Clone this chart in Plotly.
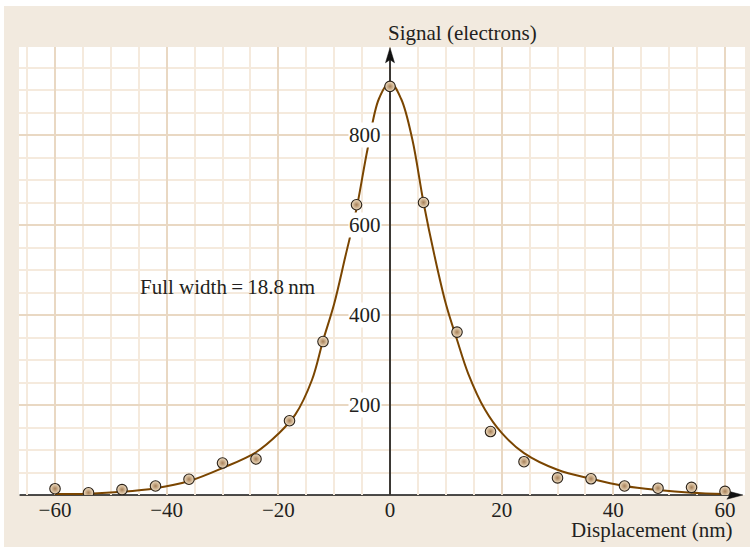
import plotly.graph_objects as go

# ---- data ----
x_pts = [-60, -54, -48, -42, -36, -30, -24, -18, -12, -6, 0, 6, 12, 18, 24, 30, 36, 42, 48, 54, 60]
y_pts = [14, 5, 12, 20, 35, 71, 80, 165, 341, 645, 908, 650, 362, 141, 74, 38, 36, 20, 15, 17, 8]

curve_x = [-60, -54, -48, -42, -36, -30, -24, -20, -17, -14, -12, -10, -8, -6, -4, -2, 0,
           2, 4, 6, 8, 10, 12, 14, 17, 20, 24, 30, 36, 42, 48, 54, 60]
curve_y = [2, 3, 7, 15, 31, 60, 95, 136, 178, 255, 343, 425, 530, 636, 770, 880, 917,
           880, 790, 650, 530, 425, 345, 270, 190, 138, 93, 56, 36, 20, 11, 5, 2]

x_ticks = [-60, -40, -20, 0, 20, 40, 60]
y_tick_labels = [200, 400, 600, 800]

x_title = "Displacement (nm)"
y_title = "Signal (electrons)"
note = "Full width\u2009=\u200918.8\u2009nm"

# ---- style ----
FONT = "Liberation Serif, Times New Roman, serif"
TXT = "#231f20"
BEIGE = "#f2eadf"
MINOR = "#f5eadd"
MAJOR = "#e9d8c3"
BROWN = "#7a4500"

X_RANGE = [-66.45, 63.58]
Y_RANGE = [0, 995.6]

fig = go.Figure()

fig.add_trace(go.Scatter(
    x=curve_x, y=curve_y, mode="lines",
    line=dict(color=BROWN, width=2, shape="spline", smoothing=1.0),
    hoverinfo="skip", showlegend=False,
))
fig.add_trace(go.Scatter(
    x=x_pts, y=y_pts, mode="markers",
    marker=dict(size=10.5, color="#f2e0c4",
                gradient=dict(type="radial", color="#a78058"),
                line=dict(color="#2a2118", width=1.1)),
    showlegend=False,
))

annotations = []
for v in y_tick_labels:
    annotations.append(dict(
        x=-1.5, y=v, xref="x", yref="y", text=str(v), showarrow=False,
        xanchor="right", yanchor="middle", bgcolor="white", borderpad=0,
        font=dict(family=FONT, size=21, color=TXT),
    ))
annotations.append(dict(
    x=-0.75, y=1.031, xref="x", yref="paper", text=y_title, showarrow=False,
    xanchor="left", yanchor="middle", font=dict(family=FONT, size=21, color=TXT),
))
annotations.append(dict(
    x=61.8, y=-0.078, xref="x", yref="paper", text=x_title, showarrow=False,
    xanchor="right", yanchor="middle", font=dict(family=FONT, size=21, color=TXT),
))
annotations.append(dict(
    x=-45.1, y=463, xref="x", yref="y", text=note, showarrow=False,
    xanchor="left", yanchor="middle", font=dict(family=FONT, size=21, color=TXT),
))

shapes = [
    # white strips at the image edge
    dict(type="rect", xref="paper", yref="paper", x0=-0.05, x1=(4 - 19) / 726,
         y0=-0.3, y1=1.3, fillcolor="white", line_width=0, layer="below"),
    dict(type="rect", xref="paper", yref="paper", x0=-0.05, x1=1.05,
         y0=1 - (6 - 47) / 448, y1=1.3, fillcolor="white", line_width=0, layer="below"),
    # x axis line
    dict(type="line", xref="x", yref="paper", x0=X_RANGE[0] + 0.1, x1=61.0, y0=0, y1=0,
         line=dict(color="#111111", width=1.6), layer="between"),
    # y axis line
    dict(type="line", xref="x", yref="y", x0=0, x1=0, y0=0, y1=975,
         line=dict(color="#111111", width=1.6), layer="between"),
    # arrow heads
    dict(type="path", xref="x", yref="paper", xsizemode="pixel", ysizemode="pixel",
         xanchor=63.2, yanchor=0,
         path="M0,0 L-16,4.2 L-13,0 L-16,-4.2 Z",
         fillcolor="#111111", line=dict(color="#111111", width=0.5), layer="between"),
    dict(type="path", xref="x", yref="y", xsizemode="pixel", ysizemode="pixel",
         xanchor=0, yanchor=994,
         path="M0,0 L-4.5,-15 L0,-12 L4.5,-15 Z",
         fillcolor="#111111", line=dict(color="#111111", width=0.5), layer="between"),
]

fig.update_layout(
    width=750, height=547,
    margin=dict(l=19, r=5, t=47, b=52, pad=0),
    paper_bgcolor=BEIGE, plot_bgcolor="white",
    font=dict(family=FONT, size=21, color=TXT),
    showlegend=False,
    annotations=annotations,
    shapes=shapes,
    xaxis=dict(
        range=X_RANGE, tickmode="array", tickvals=x_ticks,
        showgrid=True, gridcolor=MAJOR, gridwidth=1.5,
        minor=dict(dtick=5, tick0=0, showgrid=True, gridcolor=MINOR, gridwidth=1.5),
        zeroline=False, showline=False, ticks="",
        tickfont=dict(family=FONT, size=21, color=TXT),
        fixedrange=True,
    ),
    yaxis=dict(
        range=Y_RANGE, tickmode="linear", tick0=0, dtick=200,
        showgrid=True, gridcolor=MAJOR, gridwidth=1.5,
        minor=dict(dtick=50, tick0=0, showgrid=True, gridcolor=MINOR, gridwidth=1.5),
        zeroline=False, showline=False, ticks="", showticklabels=False,
        fixedrange=True,
    ),
)

fig.write_html("out.html")
